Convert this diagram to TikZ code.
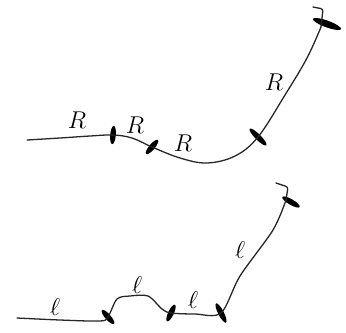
\documentclass[tikz,border=0pt]{standalone}
\usepackage{amsmath,amssymb}
\usetikzlibrary{shapes.geometric}

\begin{document}
\begin{tikzpicture}[
    x=0.03cm, y=-0.03cm,
    wire/.style={line width=1.1pt, black!85, line cap=round, line join=round},
    tick/.style={ellipse, fill=black, inner sep=0pt, minimum width=5.5mm, minimum height=1.7mm},
    lbl/.style={font=\fontsize{20}{22}\selectfont, inner sep=0pt}
]
\useasboundingbox (0,0) rectangle (346,332);

% upper chain
\coordinate (S1) at (27,140);
\node[tick, rotate=85] (T1) at (113,135) {};
\node[tick, rotate=50] (T2) at (152,147) {};
\node[tick, rotate=-45, minimum width=7mm] (T3) at (258,137) {};
\node[tick, rotate=-20, minimum width=9mm, minimum height=2mm] (T4) at (327,24) {};
\coordinate (H1) at (323,9);
\coordinate (E1) at (313,7);

\draw[wire] plot[smooth, tension=0.6] coordinates {(S1) (60,138) (90,136) (T1.center) (132,138) (T2.center) (180,158) (207,163) (235,156) (T3.center) (285,95) (307,58) (321,27)};
\draw[wire, rounded corners=2pt] (321,27) -- (H1) -- (E1);

\node[lbl] (R1) at (77,120) {$R$};
\node[lbl] (R2) at (135,125) {$R$};
\node[lbl] (R3) at (183,143) {$R$};
\node[lbl] (R4) at (274,82) {$R$};

% lower chain
\coordinate (S2) at (17,318);
\node[tick, rotate=-49] (B1) at (108,317) {};
\node[tick, rotate=65] (B2) at (171,313) {};
\node[tick, rotate=-63, minimum width=6.5mm] (B3) at (221,313) {};
\node[tick, rotate=-30, minimum width=6mm] (B4) at (291,202) {};
\coordinate (H2) at (288,187);
\coordinate (E2) at (276,183);

\draw[wire] plot[smooth, tension=0.5] coordinates {(S2) (60,320) (100,321) (B1.center) (117,299) (130,296) (148,296) (162,309) (B2.center) (195,314) (B3.center) (240,276) (273,230) (286,200)};
\draw[wire, rounded corners=2pt] (286,200) -- (H2) -- (E2);

\node[lbl] (L1) at (55,307) {$\ell$};
\node[lbl] (L2) at (137,285) {$\ell$};
\node[lbl] (L3) at (193,300) {$\ell$};
\node[lbl] (L4) at (240,250) {$\ell$};
\end{tikzpicture}
\end{document}
